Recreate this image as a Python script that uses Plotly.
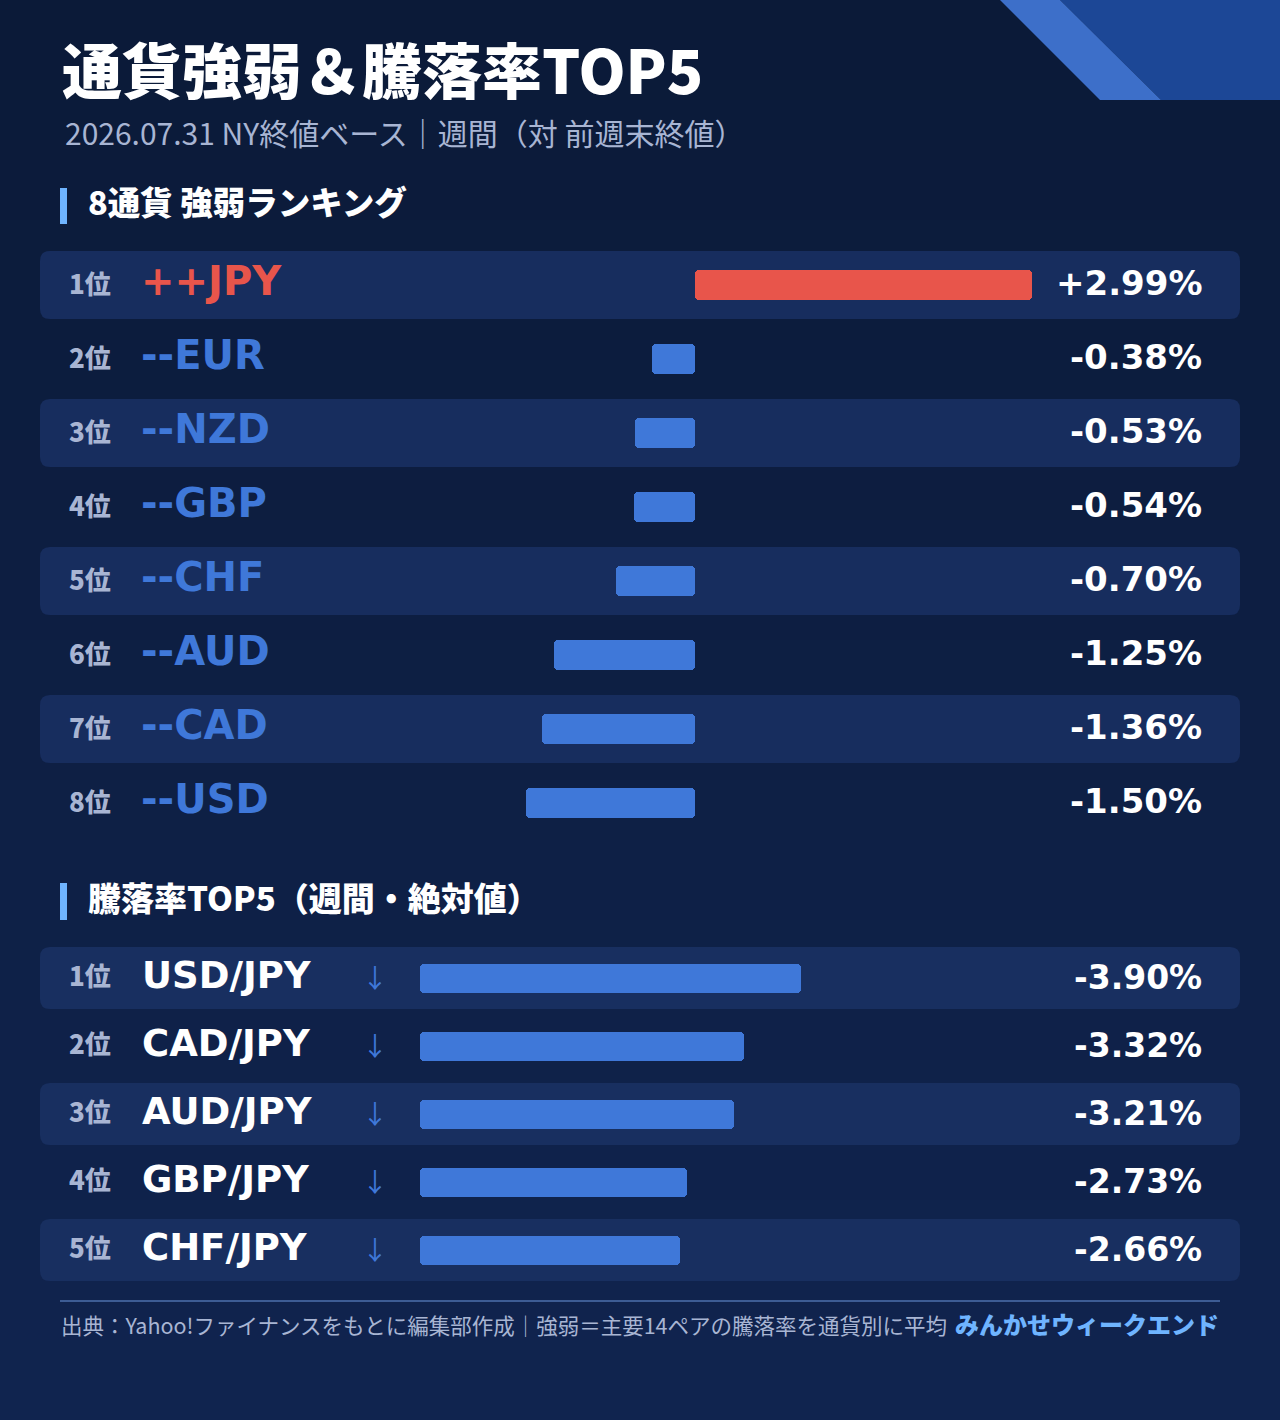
import plotly.graph_objects as go

# ---------------- data ----------------
currencies = ["JPY", "EUR", "NZD", "GBP", "CHF", "AUD", "CAD", "USD"]
strength = [2.99, -0.38, -0.53, -0.54, -0.70, -1.25, -1.36, -1.50]

pairs = ["USD/JPY", "CAD/JPY", "AUD/JPY", "GBP/JPY", "CHF/JPY"]
pair_changes = [-3.90, -3.32, -3.21, -2.73, -2.66]

title_text = "通貨強弱＆騰落率TOP5"
subtitle_text = "2026.07.31 NY終値ベース｜週間（対 前週末終値）"
section1_text = "8通貨 強弱ランキング"
section2_text = "騰落率TOP5（週間・絶対値）"
footer_text = "出典：Yahoo!ファイナンスをもとに編集部作成｜強弱＝主要14ペアの騰落率を通貨別に平均"
brand_text = "みんかせウィークエンド"

# ---------------- style ----------------
W, H = 1280, 1420
BG_TOP = (11, 26, 56)
BG_BOT = (16, 36, 79)
ROW_HI = "#172d5e"
RED = "#e8554b"
BLUE = "#3f78d9"
ACCENT = "#6fb4ff"
MUTED = "#a8b5d3"
WHITE = "#ffffff"
CJK = "Noto Sans CJK JP"
NUM = "DejaVu Sans"

# layout geometry (pixels)
R1_TOP, R1_PITCH, R1_H = 248, 74, 68       # ranking rows
R1_ZERO_PX, R1_SCALE = 695, 112.8           # px per %
R2_TOP, R2_PITCH, R2_H = 944, 68, 62        # top5 rows
R2_LEFT_PX, R2_SCALE = 420, 97.7
PANEL_L, PANEL_R = 40, 1240

n1, n2 = len(currencies), len(pairs)


def rr(x0, y0, x1, y1, r):
    return (f"M{x0+r},{y0} L{x1-r},{y0} Q{x1},{y0} {x1},{y0+r} L{x1},{y1-r} "
            f"Q{x1},{y1} {x1-r},{y1} L{x0+r},{y1} Q{x0},{y1} {x0},{y1-r} "
            f"L{x0},{y0+r} Q{x0},{y0} {x0+r},{y0} Z")


shapes = []
# background gradient bands
nb = 71
for k in range(nb):
    t = k / (nb - 1)
    c = tuple(round(BG_TOP[j] + (BG_BOT[j] - BG_TOP[j]) * t) for j in range(3))
    shapes.append(dict(type="rect", xref="x", yref="y", x0=0, x1=W,
                       y0=k * 20, y1=k * 20 + 21, line=dict(width=0),
                       fillcolor=f"rgb{c}", layer="below"))
# top-right decoration
shapes.append(dict(type="path", xref="x", yref="y",
                   path="M1060,0 L1280,0 L1280,100 L1161,100 Z",
                   fillcolor="#1c4796", line=dict(width=0), layer="below"))
shapes.append(dict(type="path", xref="x", yref="y",
                   path="M1000,0 L1060,0 L1161,100 L1100,100 Z",
                   fillcolor="#3d6fc9", line=dict(width=0), layer="below"))
# accent bars for section headers
shapes.append(dict(type="rect", xref="x", yref="y", x0=60, x1=67, y0=188, y1=224,
                   fillcolor=ACCENT, line=dict(width=0), layer="below"))
shapes.append(dict(type="rect", xref="x", yref="y", x0=60, x1=67, y0=883, y1=920,
                   fillcolor=ACCENT, line=dict(width=0), layer="below"))
# zero line (below row highlights)
shapes.append(dict(type="line", xref="x2", yref="y", x0=0, x1=0,
                   y0=R1_TOP + 72, y1=R1_TOP + R1_PITCH * n1 - 5,
                   line=dict(color="#3b5486", width=1.5), layer="below"))
# ranking row highlights
for i in range(0, n1, 2):
    yc = R1_TOP + R1_PITCH * (i + 0.5)
    shapes.append(dict(type="path", xref="x", yref="y",
                       path=rr(PANEL_L, yc - R1_H / 2, PANEL_R, yc + R1_H / 2, 10),
                       fillcolor=ROW_HI, line=dict(width=0), layer="below"))
# top5 row highlights
for i in range(0, n2, 2):
    yc = R2_TOP + R2_PITCH * (i + 0.5)
    shapes.append(dict(type="path", xref="x", yref="y",
                       path=rr(PANEL_L, yc - R2_H / 2, PANEL_R, yc + R2_H / 2, 10),
                       fillcolor="#182f60", line=dict(width=0), layer="below"))
# footer rule
shapes.append(dict(type="line", xref="x", yref="y", x0=60, x1=1220, y0=1301, y1=1301,
                   line=dict(color="#3d5c94", width=2), layer="below"))

fig = go.Figure()

# ranking bars
fig.add_trace(go.Bar(
    x=strength, y=list(range(n1)), orientation="h", base=0,
    width=30 / R1_PITCH,
    marker=dict(color=[RED if v > 0 else BLUE for v in strength],
                line=dict(width=0), cornerradius=4),
    xaxis="x2", yaxis="y2", hoverinfo="skip", showlegend=False))

# top5 bars (absolute value)
fig.add_trace(go.Bar(
    x=[abs(v) for v in pair_changes], y=list(range(n2)), orientation="h", base=0,
    width=29 / R2_PITCH,
    marker=dict(color=BLUE, line=dict(width=0), cornerradius=4),
    xaxis="x3", yaxis="y3", hoverinfo="skip", showlegend=False))

ann = []
# header texts
ann.append(dict(text=title_text, x=60, y=67, xref="x", yref="y", xanchor="left",
                yanchor="middle", showarrow=False,
                font=dict(family=CJK, size=60, color=WHITE, weight=900)))
ann.append(dict(text=subtitle_text, x=63, y=132, xref="x", yref="y", xanchor="left",
                yanchor="middle", showarrow=False,
                font=dict(family=CJK, size=30, color=MUTED)))
ann.append(dict(text=section1_text, x=86, y=200, xref="x", yref="y", xanchor="left",
                yanchor="middle", showarrow=False,
                font=dict(family=CJK, size=32.5, color=WHITE, weight=900)))
ann.append(dict(text=section2_text, x=86, y=897, xref="x", yref="y", xanchor="left",
                yanchor="middle", showarrow=False,
                font=dict(family=CJK, size=33, color=WHITE, weight=900)))

# ranking row texts
for i, (c, v) in enumerate(zip(currencies, strength)):
    col = RED if v > 0 else BLUE
    prefix = "++" if v > 0 else "--"
    ann.append(dict(text=f"{i+1}位", x=113, y=i, xref="x", yref="y2", xanchor="right",
                    yanchor="middle", showarrow=False, yshift=3,
                    font=dict(family=CJK, size=26, color=MUTED, weight=900)))
    ann.append(dict(text=prefix + c, x=139, y=i, xref="x", yref="y2", xanchor="left",
                    yanchor="middle", showarrow=False, yshift=4,
                    font=dict(family=NUM, size=40, color=col, weight=700)))
    ann.append(dict(text=f"{v:+.2f}%", x=1204, y=i, xref="x", yref="y2", xanchor="right",
                    yanchor="middle", showarrow=False, yshift=2,
                    font=dict(family=NUM, size=34, color=WHITE, weight=700)))

# top5 row texts
for i, (p, v) in enumerate(zip(pairs, pair_changes)):
    ann.append(dict(text=f"{i+1}位", x=113, y=i, xref="x", yref="y3", xanchor="right",
                    yanchor="middle", showarrow=False, yshift=4,
                    font=dict(family=CJK, size=26, color=MUTED, weight=900)))
    ann.append(dict(text=p, x=140, y=i, xref="x", yref="y3", xanchor="left",
                    yanchor="middle", showarrow=False, yshift=3,
                    font=dict(family=NUM, size=37, color=WHITE, weight=700)))
    ann.append(dict(text="↓" if v < 0 else "↑", x=375, y=i, xref="x", yref="y3",
                    xanchor="center", yanchor="middle", showarrow=False, yshift=2,
                    font=dict(family=CJK, size=26, color=BLUE)))
    ann.append(dict(text=f"{v:+.2f}%", x=1204, y=i, xref="x", yref="y3", xanchor="right",
                    yanchor="middle", showarrow=False, yshift=1,
                    font=dict(family=NUM, size=33, color=WHITE, weight=700)))

# footer
ann.append(dict(text=footer_text, x=59, y=1324, xref="x", yref="y", xanchor="left",
                yanchor="middle", showarrow=False,
                font=dict(family=CJK, size=21.5, color=MUTED)))
ann.append(dict(text=brand_text, x=1221, y=1323, xref="x", yref="y", xanchor="right",
                yanchor="middle", showarrow=False,
                font=dict(family=CJK, size=24, color=ACCENT, weight=900)))

r1_bot_px = R1_TOP + R1_PITCH * n1
r2_bot_px = R2_TOP + R2_PITCH * n2

fig.update_layout(
    width=W, height=H, margin=dict(l=0, r=0, t=0, b=0),
    paper_bgcolor="rgb(11,26,56)", plot_bgcolor="rgba(0,0,0,0)",
    shapes=shapes, annotations=ann, showlegend=False, bargap=0,
    xaxis=dict(range=[0, W], domain=[0, 1], visible=False, fixedrange=True),
    yaxis=dict(range=[H, 0], domain=[0, 1], visible=False, fixedrange=True),
    xaxis2=dict(range=[(PANEL_L - R1_ZERO_PX) / R1_SCALE, (PANEL_R - R1_ZERO_PX) / R1_SCALE],
                domain=[PANEL_L / W, PANEL_R / W], anchor="y2", visible=False,
                fixedrange=True),
    yaxis2=dict(range=[n1 - 0.5, -0.5], domain=[1 - r1_bot_px / H, 1 - R1_TOP / H],
                anchor="x2", visible=False, fixedrange=True),
    xaxis3=dict(range=[0, (PANEL_R - R2_LEFT_PX) / R2_SCALE],
                domain=[R2_LEFT_PX / W, PANEL_R / W], anchor="y3", visible=False,
                fixedrange=True),
    yaxis3=dict(range=[n2 - 0.5, -0.5], domain=[1 - r2_bot_px / H, 1 - R2_TOP / H],
                anchor="x3", visible=False, fixedrange=True),
)

fig.write_html("out.html", config={"displayModeBar": False},
               post_script="document.body.style.margin='0';document.body.style.background='rgb(16,36,79)';")
